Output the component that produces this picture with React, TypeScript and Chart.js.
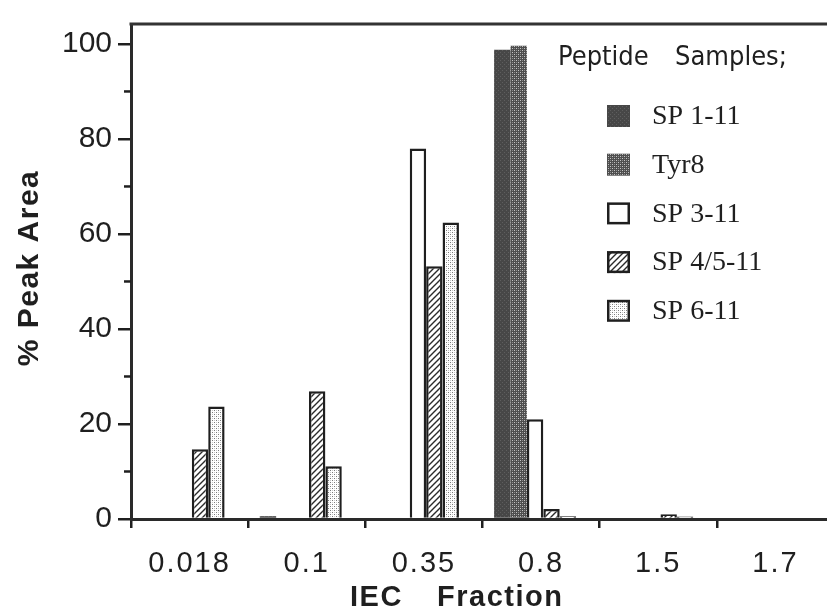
import React, { useEffect, useRef } from 'react';
import { Chart, registerables } from 'chart.js';

Chart.register(...registerables);

// ---- data ----
const categories = ['0.018', '0.1', '0.35', '0.8', '1.5', '1.7'];
const seriesNames = ['SP 1-11', 'Tyr8', 'SP 3-11', 'SP 4/5-11', 'SP 6-11'];
const sp1_11 = [0, 0.6, 0, 98.8, 0, 0];
const tyr8 = [0, 0, 0, 99.6, 0, 0];
const sp3_11 = [0, 0, 78, 21, 0, 0];
const sp45_11 = [14.7, 26.9, 53.2, 2.1, 1.0, 0];
const sp6_11 = [23.7, 11.1, 62.4, 0.6, 0.5, 0];
const yMajorStep = 20;
const yMinorTicks = [10, 30, 50, 70, 90];
const yMax = 104.2;
const groupShift = 0.051; // bar groups sit slightly left of category centres
const xTitleWords = ['IEC', 'Fraction'];
const yTitle = '% Peak Area';
const legendTitleWords = ['Peptide', 'Samples;'];

const INK = '#1f1f1f';
const CANVAS_W = 834; // plot runs past the right edge of the picture, as in the original
const VIEW_W = 827;
const VIEW_H = 609;

function makePattern(kind: string): CanvasPattern | string {
  const c = document.createElement('canvas');
  const ctx = c.getContext('2d');
  if (!ctx) return '#888';
  if (kind === 'dark') {
    c.width = 4; c.height = 4;
    ctx.fillStyle = '#474747'; ctx.fillRect(0, 0, 4, 4);
    ctx.fillStyle = '#5e5e5e'; ctx.fillRect(0, 0, 1, 1); ctx.fillRect(2, 2, 1, 1);
  } else if (kind === 'tyr') {
    c.width = 4; c.height = 4;
    ctx.fillStyle = '#4e4e4e'; ctx.fillRect(0, 0, 4, 4);
    ctx.fillStyle = '#c4c4c4'; ctx.fillRect(0, 0, 1, 1); ctx.fillRect(2, 2, 1, 1);
    ctx.fillStyle = '#8a8a8a'; ctx.fillRect(2, 0, 1, 1); ctx.fillRect(0, 2, 1, 1);
  } else if (kind === 'hatch') {
    c.width = 6; c.height = 6;
    ctx.fillStyle = '#ffffff'; ctx.fillRect(0, 0, 6, 6);
    ctx.strokeStyle = '#2a2a2a'; ctx.lineWidth = 1.4;
    ctx.beginPath();
    ctx.moveTo(-1, 7); ctx.lineTo(7, -1);
    ctx.moveTo(-4, 4); ctx.lineTo(4, -4);
    ctx.moveTo(2, 10); ctx.lineTo(10, 2);
    ctx.stroke();
  } else if (kind === 'stipple') {
    c.width = 4; c.height = 4;
    ctx.fillStyle = '#ffffff'; ctx.fillRect(0, 0, 4, 4);
    ctx.fillStyle = '#7a7a7a'; ctx.fillRect(0, 0, 1, 1); ctx.fillRect(2, 2, 1, 1);
    ctx.fillStyle = '#c8c8c8'; ctx.fillRect(2, 0, 1, 1); ctx.fillRect(0, 2, 1, 1);
  } else {
    return '#ffffff';
  }
  return ctx.createPattern(c, 'repeat') || '#888';
}

export default function App() {
  const ref = useRef<HTMLCanvasElement | null>(null);

  useEffect(() => {
    const canvas = ref.current;
    if (!canvas) return;

    const fills = [
      makePattern('dark'),
      makePattern('tyr'),
      '#ffffff',
      makePattern('hatch'),
      makePattern('stipple'),
    ];
    const values = [sp1_11, tyr8, sp3_11, sp45_11, sp6_11];
    const borderWidths = [0, 0, 2.5, 2.5, 2.5];

    const decor = {
      id: 'decor',
      beforeDraw(chart: any) {
        const xs = chart.scales.x;
        if (xs && !xs.__ls) {
          const orig = xs.drawLabels.bind(xs);
          xs.drawLabels = (area: any) => {
            const c = chart.ctx;
            c.save();
            (c as any).letterSpacing = '2px';
            orig(area);
            c.restore();
          };
          xs.__ls = true;
        }
      },
      afterDraw(chart: any) {
        const ctx: CanvasRenderingContext2D = chart.ctx;
        const area = chart.chartArea;
        const ys = chart.scales.y;
        ctx.save();
        // top frame line
        ctx.strokeStyle = '#333';
        ctx.lineWidth = 3;
        ctx.beginPath();
        ctx.moveTo(area.left - 1.5, area.top);
        ctx.lineTo(area.right, area.top);
        ctx.stroke();
        // minor y ticks
        ctx.strokeStyle = INK;
        ctx.lineWidth = 2.5;
        yMinorTicks.forEach((v) => {
          const y = ys.getPixelForValue(v);
          ctx.beginPath();
          ctx.moveTo(area.left - 7, y);
          ctx.lineTo(area.left, y);
          ctx.stroke();
        });

        // legend
        ctx.fillStyle = INK;
        ctx.textBaseline = 'middle';
        ctx.textAlign = 'left';
        ctx.font = '27px "Liberation Sans Narrow", "DejaVu Sans Condensed", "Liberation Sans", sans-serif';
        ctx.fillText(legendTitleWords[0], 558, 58);
        ctx.fillText(legendTitleWords[1], 675, 58);

        const rowY0 = 116;
        const rowStep = 48.7;
        chart.data.datasets.forEach((ds: any, i: number) => {
          const cy = rowY0 + i * rowStep;
          ctx.fillStyle = ds.backgroundColor;
          ctx.fillRect(607, cy - 11, 23, 22);
          if (i >= 2) {
            ctx.strokeStyle = INK;
            ctx.lineWidth = 2.5;
            ctx.strokeRect(608.25, cy - 9.75, 20.5, 19.5);
          }
          ctx.fillStyle = INK;
          ctx.font = '28px "Liberation Serif", "DejaVu Serif", serif';
          ctx.fillText(ds.label, 652, cy + 1);
        });

        // x axis title
        ctx.font = 'bold 29px "Liberation Sans", Arial, sans-serif';
        ctx.fillStyle = INK;
        ctx.textBaseline = 'middle';
        (ctx as any).letterSpacing = '1.5px';
        ctx.fillText(xTitleWords[0], 350, 598);
        ctx.fillText(xTitleWords[1], 437, 598);

        // y axis title
        ctx.font = 'bold 30px "Liberation Sans", Arial, sans-serif';
        ctx.translate(30, 268);
        ctx.rotate(-Math.PI / 2);
        ctx.textAlign = 'center';
        (ctx as any).letterSpacing = '1.5px';
        ctx.fillText(yTitle, 0, 0);
        ctx.restore();
      },
    };

    const chart = new Chart(canvas, {
      type: 'bar',
      data: {
        labels: categories,
        datasets: seriesNames.map((name, i) => ({
          label: name,
          data: values[i].map((v, j) => ({ x: j, y: v })),
          xAxisID: 'xb',
          backgroundColor: fills[i] as any,
          borderColor: INK,
          borderWidth: borderWidths[i],
          borderSkipped: 'bottom',
          categoryPercentage: 0.70,
          barPercentage: 1.0,
        })),
      },
      options: {
        animation: false,
        responsive: false,
        maintainAspectRatio: false,
        events: [],
        layout: { padding: { top: 20, right: 0, left: 0, bottom: 0 } },
        plugins: {
          legend: { display: false },
          tooltip: { enabled: false },
          title: { display: false },
        },
        scales: {
          x: {
            type: 'category',
            offset: true,
            grid: {
              display: true,
              offset: true,
              drawOnChartArea: false,
              drawTicks: true,
              tickLength: 9,
              color: INK,
              lineWidth: 2.5,
            },
            border: { display: true, color: '#2a2a2a', width: 3 },
            ticks: {
              color: INK,
              font: { family: '"Liberation Sans", Arial, sans-serif', size: 29 },
              padding: 19,
              maxRotation: 0,
              autoSkip: false,
            },
            afterFit: (s: any) => {
              s.height = 90;
            },
          },
          xb: {
            type: 'linear',
            display: false,
            min: -0.5 + groupShift,
            max: categories.length - 0.5 + groupShift,
            offset: false,
            ticks: { stepSize: 1, includeBounds: false },
          },
          y: {
            type: 'linear',
            min: 0,
            max: yMax,
            grid: {
              display: true,
              drawOnChartArea: false,
              drawTicks: true,
              tickLength: 13,
              color: INK,
              lineWidth: 2.5,
            },
            border: { display: true, color: '#2a2a2a', width: 3 },
            ticks: {
              stepSize: yMajorStep,
              includeBounds: false,
              color: INK,
              font: { family: '"Liberation Sans", Arial, sans-serif', size: 30 },
              padding: 6,
            },
            afterFit: (s: any) => {
              s.width = 131;
            },
          },
        },
      },
      plugins: [decor],
    });

    return () => {
      chart.destroy();
    };
  }, []);

  return (
    <div
      style={{
        position: 'fixed',
        left: 0,
        top: 0,
        width: VIEW_W,
        height: VIEW_H,
        overflow: 'hidden',
        background: '#fff',
      }}
    >
      <canvas
        ref={ref}
        width={CANVAS_W}
        height={VIEW_H}
        style={{ display: 'block', width: CANVAS_W, height: VIEW_H }}
      />
    </div>
  );
}
